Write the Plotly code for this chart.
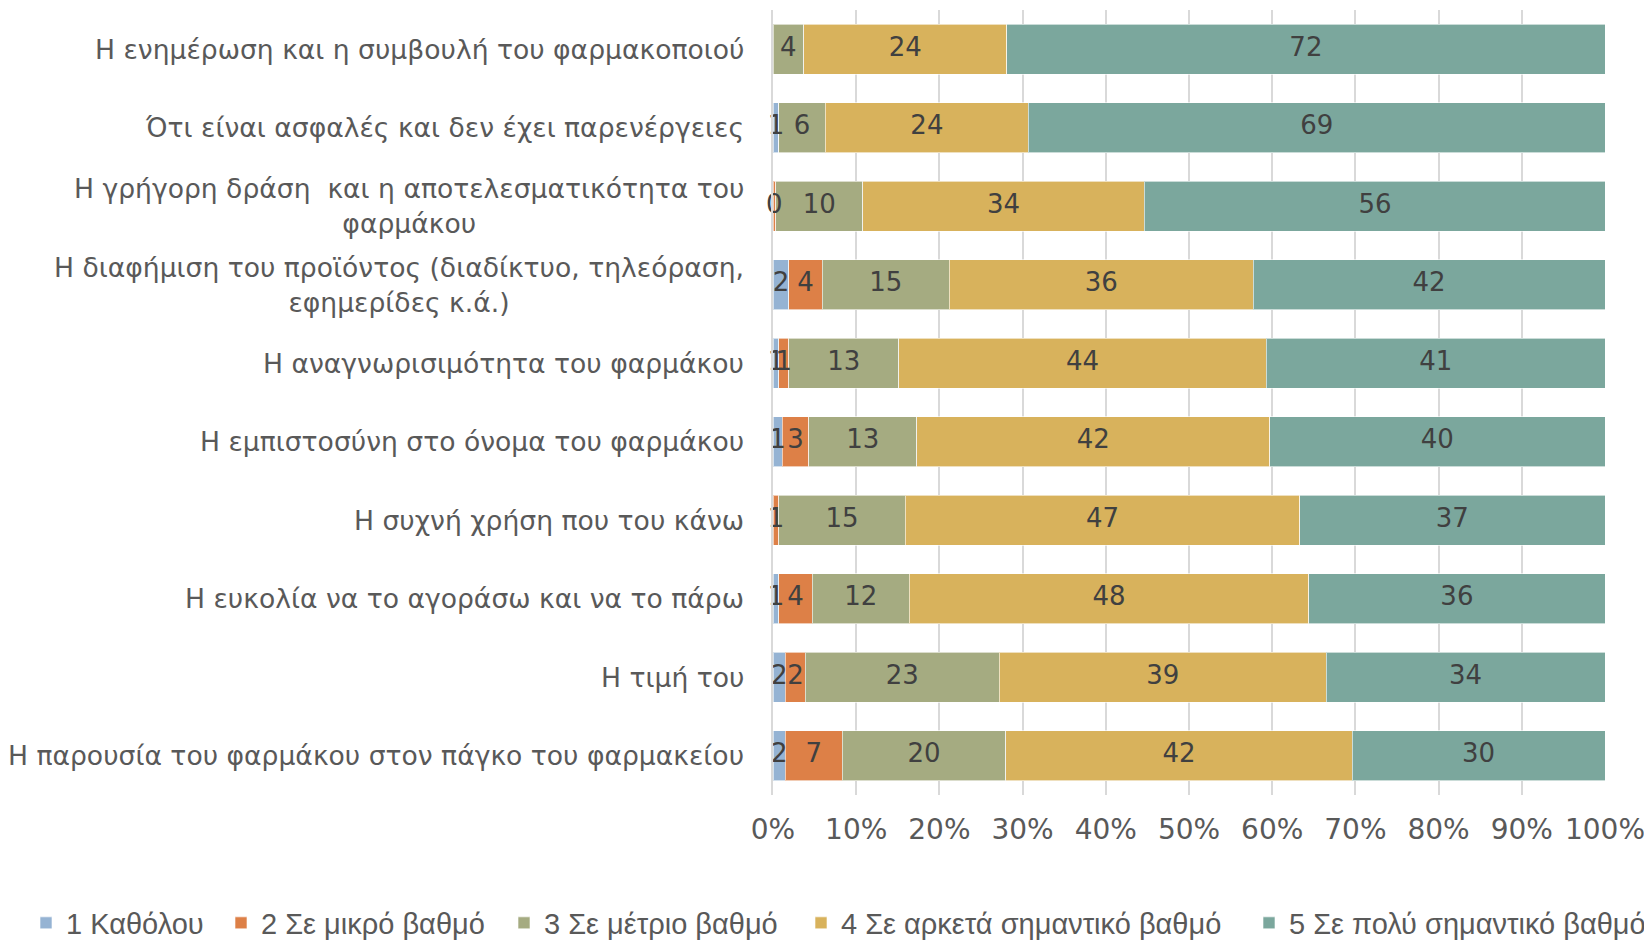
import plotly.graph_objects as go

categories = [
    "Η ενημέρωση και η συμβουλή του φαρμακοποιού",
    "Ότι είναι ασφαλές και δεν έχει παρενέργειες",
    "Η γρήγορη δράση  και η αποτελεσματικότητα του<br>φαρμάκου",
    "Η διαφήμιση του προϊόντος (διαδίκτυο, τηλεόραση,<br>εφημερίδες κ.ά.)",
    "Η αναγνωρισιμότητα του φαρμάκου",
    "Η εμπιστοσύνη στο όνομα του φαρμάκου",
    "Η συχνή χρήση που του κάνω",
    "Η ευκολία να το αγοράσω και να το πάρω",
    "Η τιμή του",
    "Η παρουσία του φαρμάκου στον πάγκο του φαρμακείου",
]

series_names = [
    "1 Καθόλου",
    "2 Σε μικρό βαθμό",
    "3 Σε μέτριο βαθμό",
    "4 Σε αρκετά σημαντικό βαθμό",
    "5 Σε πολύ σημαντικό βαθμό",
]

s1 = [None, 0.7, None, 1.9, 0.7, 1.1, None, 0.7, 1.5, 1.5]
s2 = [None, None, 0.3, 4.0, 1.2, 3.2, 0.7, 4.0, 2.4, 6.8]
s3 = [3.7, 5.6, 10.5, 15.3, 13.2, 13.0, 15.2, 11.7, 23.3, 19.7]
s4 = [24.4, 24.4, 33.8, 36.5, 44.2, 42.4, 47.4, 48.0, 39.3, 41.6]
s5 = [71.9, 69.3, 55.5, 42.3, 40.7, 40.3, 36.7, 35.6, 33.5, 30.4]

colors = ["#95B3D3", "#DD8047", "#A5AB81", "#D8B25C", "#7BA79D"]

tick_vals = [0, 10, 20, 30, 40, 50, 60, 70, 80, 90, 100]
tick_text = ["0%", "10%", "20%", "30%", "40%", "50%", "60%", "70%", "80%", "90%", "100%"]

all_series = [s1, s2, s3, s4, s5]

ML, MR, MT, MB = 765, 55, 2, 156
W, H = 1652, 943
plot_w = W - ML - MR
plot_h = H - MT - MB

# legend entry left edges (pixels) for the five separate legend boxes
legend_left_px = [18, 213, 496, 793, 1241]
legend_mid_px = 915

fig = go.Figure()
legend_ids = ["legend", "legend2", "legend3", "legend4", "legend5"]
for name, vals, col, lid in zip(series_names, all_series, colors, legend_ids):
    fig.add_trace(go.Bar(
        y=categories, x=[v if v is not None else 0 for v in vals], name=name, orientation="h",
        marker=dict(color=col, line=dict(color="rgba(255,255,255,0.6)", width=1)),
        hoverinfo="skip", legend=lid,
    ))

# data labels at the middle of each segment (derived from the stacked data)
lab_x, lab_y, lab_t = [], [], []
for i, cat in enumerate(categories):
    cum = 0.0
    for vals in all_series:
        v = vals[i]
        if v is None:
            continue
        lab_x.append(cum + v / 2)
        lab_y.append(cat)
        lab_t.append(f"{v:.0f}")
        cum += v
fig.add_trace(go.Scatter(
    x=lab_x, y=lab_y, text=lab_t, mode="text", textposition="middle center",
    textfont=dict(family="DejaVu Sans", size=26, color="#404040"),
    showlegend=False, hoverinfo="skip", cliponaxis=False,
))

for cat in categories:
    fig.add_annotation(
        xref="paper", yref="y", x=0, y=cat, xanchor="right", yanchor="middle",
        xshift=-27, text=cat, showarrow=False, align="center",
        font=dict(family="DejaVu Sans", size=26.6, color="#595959"),
    )

legend_common = dict(orientation="h", xref="paper", xanchor="left",
                     yref="paper", yanchor="middle",
                     font=dict(family="Liberation Sans", size=29, color="#595959"),
                     itemwidth=30, bgcolor="rgba(0,0,0,0)")
layout_legends = {}
for lid, lx in zip(legend_ids, legend_left_px):
    layout_legends[lid] = dict(legend_common,
                               x=(lx - ML) / plot_w,
                               y=-(legend_mid_px - (H - MB)) / plot_h)

fig.update_layout(
    width=W, height=H,
    margin=dict(l=ML, r=MR, t=MT, b=MB, autoexpand=False),
    barmode="stack", bargap=0.36,
    plot_bgcolor="white", paper_bgcolor="white",
    showlegend=True,
    xaxis=dict(range=[0, 100], tickvals=tick_vals, ticktext=tick_text,
               showgrid=True, gridcolor="#D9D9D9", gridwidth=1.5,
               zeroline=False, showline=False, ticks="",
               ticklabelstandoff=15,
               tickfont=dict(family="DejaVu Sans", size=28, color="#595959")),
    yaxis=dict(autorange="reversed", showticklabels=False, showgrid=False,
               showline=True, linecolor="#D9D9D9", linewidth=1.5, zeroline=False),
    **layout_legends,
)

fig.write_html("out.html")
